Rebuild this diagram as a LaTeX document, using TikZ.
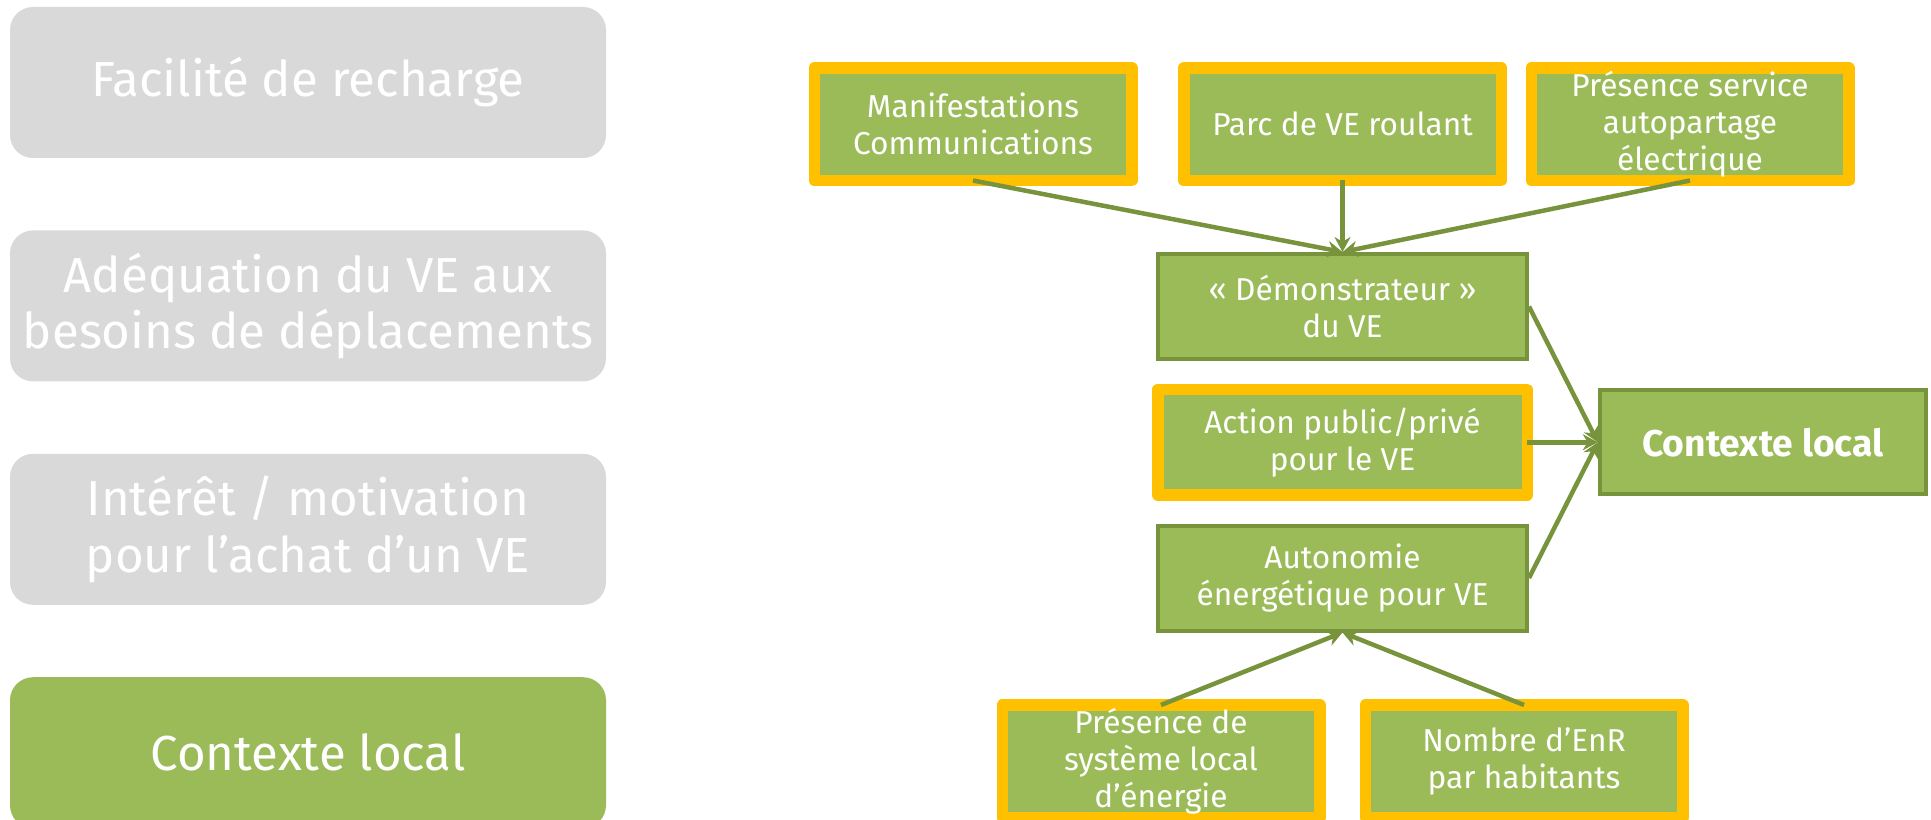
\documentclass[tikz,border=0pt]{standalone}
\usepackage{fontspec}
\setmainfont{Fira Sans}
\usetikzlibrary{arrows.meta,positioning}

\definecolor{critgray}{HTML}{D9D9D9}
\definecolor{vegreen}{HTML}{9BBB59}
\definecolor{vedark}{HTML}{77933C}
\definecolor{veyellow}{HTML}{FFC000}

\begin{document}
\begin{tikzpicture}[
        font=\fontsize{9pt}{10.5pt}\selectfont,
        node distance=7.1mm,
        crit/.style={fill=critgray, text=white, rounded corners=2.3mm, align=center, minimum width=59.6mm, minimum height=15.1mm, inner sep=0pt, font=\fontsize{14pt}{16pt}\selectfont},
        facteur/.style={draw=vedark, fill=vegreen, line width=0.4mm, text=white, align=center, minimum width=36.9mm, minimum height=10.5mm, inner sep=0pt},
        levier/.style={draw=veyellow, fill=vegreen, line width=1.15mm, line join=round, outer sep=0pt, text=white, align=center, minimum width=31.75mm, minimum height=11.25mm, inner sep=0pt},
        cible/.style={draw=vedark, fill=vegreen, line width=0.4mm, text=white, align=center, minimum width=32.6mm, minimum height=10.4mm, inner sep=0pt, font=\bfseries\fontsize{10.6pt}{12pt}\selectfont},
        link/.style={draw=vedark, line width=0.45mm, -{Stealth[length=1.5mm,width=1.6mm]}}
    ]
        \useasboundingbox (0,0) rectangle (193.1mm,-82mm);

        % left column: the four criteria
        \node[crit] (recharge) at (30.8mm,-8.25mm) {Facilité de recharge};
        \node[crit, below=of recharge] (adequation) {Adéquation du VE aux\\besoins de déplacements};
        \node[crit, below=of adequation] (interet) {Intérêt / motivation\\pour l’achat d’un VE};
        \node[crit, fill=vegreen, below=of interet] (contexte) {Contexte local};

        % right: factors of the local context
        \node[facteur] (demo) at (134.25mm,-30.65mm) {« Démonstrateur »\\du VE};
        \node[levier, above=7.15mm of demo] (parc) {Parc de VE roulant};
        \node[levier, left=5.2mm of parc] (manif) {Manifestations\\Communications};
        \node[levier, right=3mm of parc] (autopartage) {Présence service\\autopartage\\électrique};
        \node[levier, minimum width=36.95mm, minimum height=10.55mm, below=2.85mm of demo] (action) {Action public/privé\\pour le VE};
        \node[facteur, below=2.85mm of action] (autonomie) {Autonomie\\énergétique pour VE};
        \node[levier, below=7.25mm of autonomie, xshift=-18.15mm] (systeme) {Présence de\\système local\\d’énergie};
        \node[levier, below=7.25mm of autonomie, xshift=18.15mm] (enr) {Nombre d’EnR\\par habitants};
        \node[cible, right=7.05mm of action] (local) {Contexte local};

        \draw[link] (manif.south) -- (demo.north);
        \draw[link] (parc.south) -- (demo.north);
        \draw[link] (autopartage.south) -- (demo.north);
        \draw[link] (demo.east) -- (local.west);
        \draw[link] (action.east) -- (local.west);
        \draw[link] (autonomie.east) -- (local.west);
        \draw[link] (systeme.north) -- (autonomie.south);
        \draw[link] (enr.north) -- (autonomie.south);
    \end{tikzpicture}
\end{document}
